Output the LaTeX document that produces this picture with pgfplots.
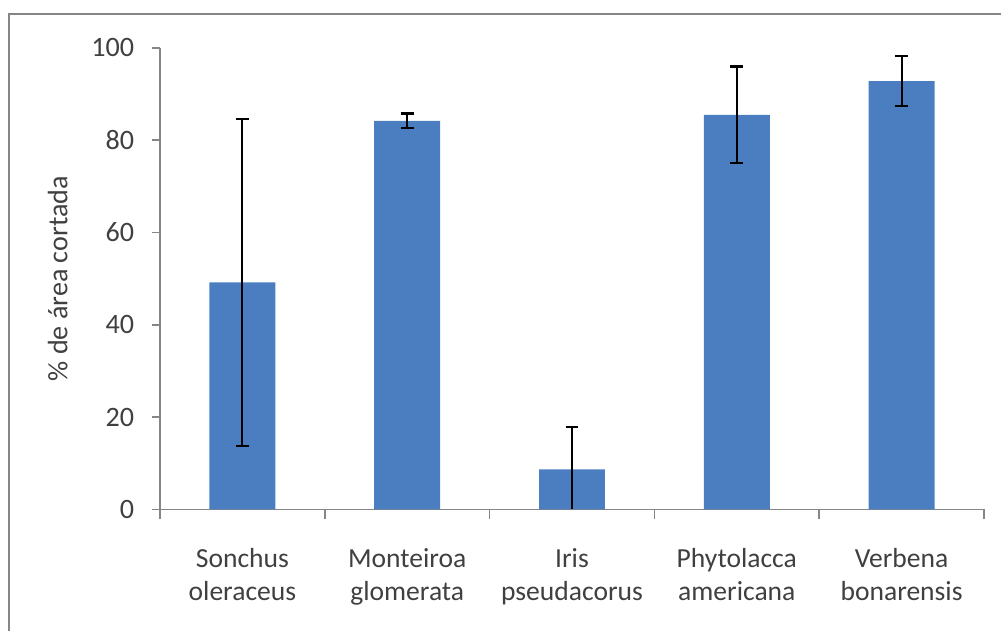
\documentclass[border=0pt]{standalone}
\usepackage{fontspec}
\setmainfont{Carlito}
\usepackage{pgfplots}
\pgfplotsset{compat=1.18}
\definecolor{barblue}{RGB}{74,126,193}
\definecolor{txt}{RGB}{64,64,64}
\definecolor{axgray}{RGB}{134,134,134}
\begin{document}
\begin{tikzpicture}[x=1pt,y=1pt]
\useasboundingbox (0,0) rectangle (370.37,233.47);
% outer chart frame (left and top edges visible)
\draw[axgray, line width=1pt] (3.3,-5) -- (3.3,228.3) -- (380,228.3);
\begin{axis}[
  at={(59.2pt,44.96pt)}, anchor=south west,
  scale only axis, width=304.88pt, height=170.76pt,
  xmin=-0.5, xmax=4.5, ymin=0, ymax=100,
  axis lines*=left,
  axis line style={axgray, line width=0.6pt},
  xtick={0,1,2,3,4},
  xticklabels={Sonchus\\oleraceus, Monteiroa\\glomerata, Iris\\pseudacorus, Phytolacca\\americana, Verbena\\bonarensis},
  minor xtick={-0.5,0.5,1.5,2.5,3.5,4.5},
  major x tick style={draw=none},
  minor tick length=3.7pt,
  ytick={0,20,40,60,80,100},
  major tick length=3pt,
  tick align=outside,
  tick style={axgray, line width=0.6pt},
  xticklabel style={align=center, font=\fontsize{10.2}{12}\selectfont, text=txt, yshift=-8pt},
  yticklabel style={font=\fontsize{10.4}{12}\selectfont, text=txt, xshift=-3pt},
  /pgf/number format/assume math mode=true,
  ylabel={\% de área cortada},
  every axis y label/.style={at={(axis description cs:-0.124,0.5)}, rotate=90, anchor=center,
    font=\fontsize{10.4}{12}\selectfont, text=txt},
  bar width=24.4pt,
]
\addplot[ybar, fill=barblue, draw=none] coordinates {
  (0,49.2) (1,84.2) (2,8.7) (3,85.5) (4,92.8)
};
% error bars (both directions)
\addplot[draw=none, mark=none, forget plot,
  error bars/.cd, y dir=both, y explicit,
  error bar style={draw=black, line width=0.8pt},
  error mark options={draw=black, rotate=90, mark size=2.4pt, line width=0.8pt}]
  coordinates {
  (0,49.2) +- (0,35.4)
  (1,84.2) +- (0,1.6)
  (3,85.5) +- (0,10.5)
  (4,92.8) +- (0,5.4)
};
% Iris: lower whisker is cut at zero, so only the upper cap is drawn
\addplot[draw=none, mark=none, forget plot,
  error bars/.cd, y dir=plus, y explicit,
  error bar style={draw=black, line width=0.8pt},
  error mark options={draw=black, rotate=90, mark size=2.4pt, line width=0.8pt}]
  coordinates {
  (2,8.7) +- (0,9.1)
};
\addplot[black, line width=0.8pt, forget plot] coordinates {(2,0) (2,8.7)};
\end{axis}
\end{tikzpicture}
\end{document}
